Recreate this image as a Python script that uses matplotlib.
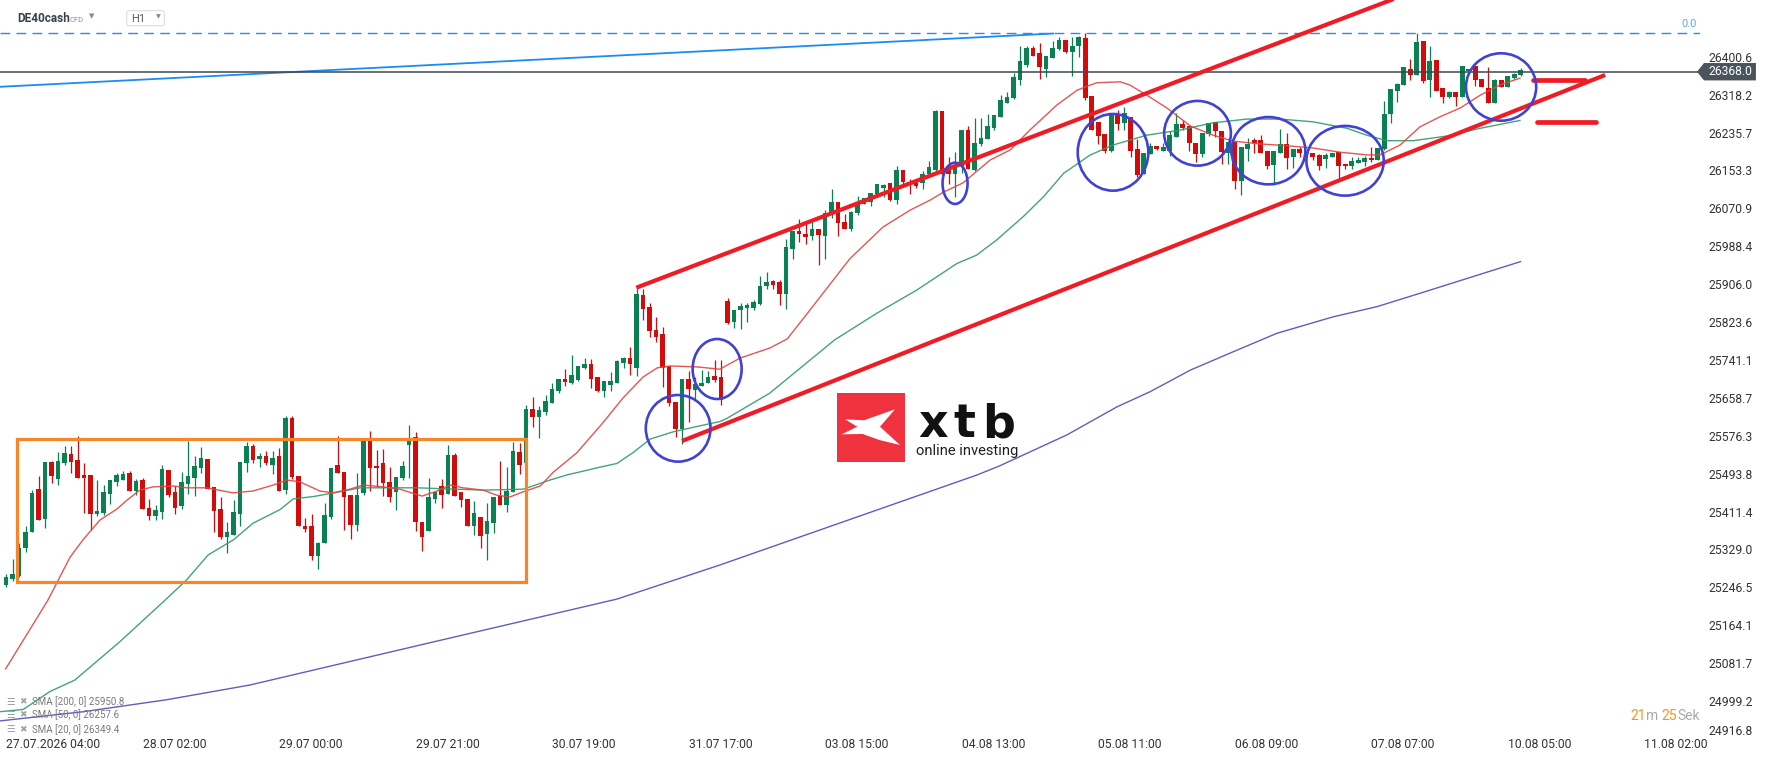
import matplotlib
matplotlib.use('Agg')
import numpy as np
import matplotlib.pyplot as plt
from matplotlib.patches import Rectangle, Ellipse, Polygon, FancyBboxPatch

plt.rcParams['font.family'] = ['Roboto', 'DejaVu Sans']

# H1 candles, DE40cash
opens = [
    25252, 25265, 25272, 25331, 25367, 25460, 25396, 25519, 25483, 25517,
    25537, 25524, 25491, 25491, 25407, 25408, 25450, 25476, 25480, 25495,
    25457, 25480, 25419, 25402, 25411, 25502, 25454, 25424, 25472, 25485,
    25507, 25526, 25465, 25417, 25355, 25361, 25407, 25516, 25554, 25526,
    25532, 25513, 25532, 25459, 25614, 25489, 25380, 25380, 25315, 25342,
    25400, 25513, 25497, 25447, 25382, 25451, 25567, 25510, 25516, 25475,
    25453, 25485, 25557, 25573, 25389, 25370, 25439, 25467, 25450, 25534,
    25453, 25439, 25379, 25400, 25363, 25387, 25446, 25426, 25453, 25541,
    25516, 25634, 25618, 25628, 25648, 25674, 25700, 25692, 25698, 25724,
    25732, 25704, 25674, 25687, 25692, 25734, 25745, 25724, 25882, 25856,
    25806, 25798, 25727, 25650, 25591, 25700, 25676, 25685, 25690, 25706,
    25705, 25869, 25824, 25850, 25855, 25855, 25863, 25901, 25912, 25911,
    25885, 25983, 26022, 26014, 26011, 26025, 26011, 26060, 26085, 26041,
    26027, 26060, 26081, 26084, 26103, 26116, 26125, 26090, 26154, 26129,
    26127, 26125, 26145, 26154, 26283, 26162, 26146, 26162, 26241, 26154,
    26210, 26222, 26246, 26270, 26301, 26310, 26349, 26383, 26419, 26408,
    26375, 26398, 26417, 26437, 26411, 26424, 26441, 26315, 26259, 26233,
    26196, 26274, 26257, 26269, 26199, 26145, 26189, 26207, 26196, 26196,
    26225, 26254, 26250, 26212, 26188, 26233, 26259, 26239, 26192, 26216,
    26131, 26201, 26220, 26220, 26196, 26166, 26192, 26210, 26182, 26200,
    26193, 26191, 26187, 26178, 26183, 26193, 26167, 26163, 26170, 26172,
    26181, 26175, 26201, 26275, 26327, 26339, 26375, 26360, 26435, 26350,
    26394, 26333, 26312, 26324, 26312, 26370, 26381, 26352, 26332, 26299,
    26350, 26334, 26354, 26360,
]
highs = [
    25276, 25308, 25344, 25381, 25458, 25489, 25519, 25521, 25541, 25555,
    25555, 25576, 25518, 25491, 25480, 25469, 25480, 25496, 25500, 25500,
    25483, 25484, 25439, 25426, 25513, 25502, 25467, 25497, 25565, 25532,
    25552, 25526, 25465, 25442, 25389, 25437, 25519, 25563, 25558, 25539,
    25542, 25544, 25550, 25619, 25619, 25489, 25398, 25406, 25345, 25430,
    25506, 25576, 25497, 25447, 25496, 25571, 25587, 25545, 25547, 25508,
    25487, 25521, 25600, 25584, 25389, 25485, 25453, 25483, 25556, 25539,
    25453, 25439, 25434, 25400, 25431, 25443, 25521, 25508, 25562, 25561,
    25644, 25661, 25642, 25664, 25692, 25700, 25721, 25751, 25728, 25745,
    25743, 25704, 25695, 25715, 25741, 25747, 25769, 25898, 25895, 25866,
    25835, 25812, 25727, 25650, 25700, 25717, 25705, 25719, 25716, 25740,
    25740, 25875, 25850, 25866, 25866, 25872, 25924, 25932, 25915, 25915,
    26004, 26022, 26047, 26036, 26043, 26025, 26067, 26113, 26085, 26058,
    26064, 26098, 26093, 26104, 26123, 26124, 26125, 26163, 26154, 26134,
    26129, 26151, 26174, 26285, 26283, 26182, 26194, 26241, 26251, 26268,
    26268, 26276, 26273, 26317, 26324, 26366, 26423, 26424, 26425, 26431,
    26402, 26434, 26444, 26437, 26443, 26446, 26453, 26315, 26259, 26233,
    26274, 26285, 26291, 26269, 26222, 26192, 26212, 26207, 26214, 26238,
    26279, 26263, 26250, 26212, 26234, 26257, 26259, 26239, 26216, 26216,
    26204, 26223, 26223, 26230, 26196, 26196, 26243, 26234, 26201, 26205,
    26194, 26191, 26189, 26191, 26192, 26193, 26167, 26182, 26182, 26185,
    26205, 26202, 26304, 26330, 26343, 26379, 26395, 26453, 26435, 26423,
    26394, 26333, 26326, 26324, 26381, 26373, 26381, 26352, 26378, 26353,
    26350, 26359, 26366, 26377,
]
lows = [
    25248, 25261, 25270, 25324, 25367, 25394, 25376, 25474, 25470, 25513,
    25496, 25485, 25409, 25372, 25402, 25404, 25427, 25467, 25480, 25457,
    25447, 25416, 25392, 25392, 25395, 25442, 25407, 25416, 25450, 25445,
    25495, 25460, 25366, 25351, 25321, 25361, 25381, 25498, 25517, 25508,
    25513, 25492, 25457, 25450, 25483, 25379, 25366, 25306, 25287, 25342,
    25396, 25496, 25372, 25352, 25368, 25447, 25455, 25464, 25445, 25433,
    25415, 25480, 25484, 25370, 25326, 25370, 25429, 25420, 25450, 25446,
    25422, 25379, 25360, 25331, 25307, 25364, 25426, 25411, 25453, 25493,
    25516, 25595, 25572, 25622, 25648, 25670, 25685, 25689, 25695, 25721,
    25679, 25671, 25661, 25674, 25692, 25724, 25708, 25707, 25828, 25792,
    25781, 25682, 25640, 25573, 25558, 25607, 25654, 25685, 25690, 25694,
    25643, 25819, 25810, 25808, 25824, 25850, 25861, 25895, 25895, 25861,
    25853, 25960, 25998, 25994, 26002, 25948, 25961, 26049, 26011, 26027,
    26022, 26056, 26080, 26077, 26096, 26096, 26086, 26080, 26123, 26101,
    26116, 26114, 26140, 26147, 26143, 26124, 26096, 26147, 26157, 26153,
    26207, 26221, 26241, 26270, 26299, 26309, 26339, 26379, 26403, 26353,
    26357, 26398, 26415, 26408, 26359, 26399, 26307, 26241, 26210, 26191,
    26193, 26241, 26241, 26182, 26138, 26145, 26189, 26198, 26196, 26185,
    26225, 26241, 26196, 26172, 26183, 26228, 26227, 26167, 26167, 26112,
    26099, 26174, 26192, 26192, 26156, 26121, 26192, 26156, 26158, 26182,
    26185, 26176, 26154, 26159, 26182, 26134, 26156, 26156, 26169, 26164,
    26171, 26175, 26198, 26256, 26303, 26339, 26349, 26360, 26343, 26314,
    26326, 26299, 26310, 26294, 26312, 26368, 26337, 26334, 26299, 26299,
    26334, 26334, 26352, 26359,
]
closes = [
    25268, 25276, 25333, 25367, 25452, 25394, 25519, 25489, 25521, 25539,
    25519, 25485, 25484, 25407, 25413, 25454, 25480, 25491, 25493, 25457,
    25478, 25416, 25402, 25415, 25504, 25448, 25420, 25476, 25489, 25510,
    25528, 25460, 25413, 25355, 25367, 25410, 25519, 25554, 25524, 25532,
    25517, 25528, 25457, 25614, 25487, 25379, 25374, 25315, 25343, 25404,
    25506, 25496, 25444, 25383, 25448, 25567, 25505, 25505, 25473, 25444,
    25487, 25510, 25566, 25389, 25355, 25442, 25453, 25447, 25534, 25446,
    25437, 25379, 25408, 25359, 25391, 25443, 25426, 25457, 25543, 25513,
    25634, 25618, 25632, 25652, 25678, 25700, 25694, 25708, 25728, 25732,
    25700, 25674, 25695, 25695, 25739, 25745, 25732, 25885, 25852, 25805,
    25790, 25723, 25647, 25591, 25700, 25677, 25689, 25691, 25703, 25698,
    25653, 25822, 25850, 25859, 25861, 25867, 25902, 25911, 25904, 25885,
    25987, 26022, 26014, 26009, 26027, 26013, 26061, 26085, 26038, 26027,
    26063, 26082, 26093, 26104, 26123, 26122, 26090, 26154, 26129, 26125,
    26120, 26146, 26161, 26283, 26145, 26146, 26162, 26241, 26157, 26212,
    26223, 26249, 26273, 26307, 26312, 26356, 26391, 26419, 26403, 26378,
    26402, 26419, 26437, 26410, 26424, 26444, 26310, 26241, 26229, 26196,
    26274, 26254, 26279, 26196, 26143, 26192, 26207, 26199, 26205, 26230,
    26254, 26245, 26212, 26188, 26234, 26257, 26238, 26194, 26216, 26131,
    26204, 26211, 26214, 26192, 26164, 26196, 26210, 26181, 26201, 26191,
    26191, 26182, 26164, 26187, 26192, 26164, 26162, 26174, 26177, 26181,
    26175, 26202, 26275, 26330, 26341, 26379, 26360, 26433, 26348, 26391,
    26326, 26314, 26324, 26312, 26381, 26373, 26349, 26334, 26301, 26350,
    26334, 26359, 26364, 26372,
]

# moving averages: (candle index, value)
sma20 = [(-0.06, 25069), (6.46, 25219), (9.85, 25312), (11.85, 25350), (14.46, 25393),
         (17.08, 25417), (18.6, 25436), (20.6, 25458), (22.6, 25465), (25.7, 25467),
         (27.8, 25463), (30.9, 25463), (34.9, 25452), (38, 25456), (41.1, 25469),
         (43.2, 25480), (45.2, 25476), (48.3, 25456), (50.3, 25452), (52.9, 25460),
         (54.9, 25469), (58, 25465), (60.6, 25460), (64, 25445), (66.3, 25456),
         (68.3, 25469), (70.3, 25463), (73.4, 25458), (75.5, 25447), (77.5, 25443),
         (79.5, 25454), (82.2, 25467), (84.2, 25497), (87.8, 25539), (91.8, 25604),
         (94.9, 25658), (98, 25704), (100.2, 25724), (102.2, 25728), (106.3, 25726),
         (109.8, 25721), (112.9, 25745), (117.5, 25767), (120.2, 25787), (123.7, 25850),
         (129.8, 25961), (134.9, 26030), (139.1, 26067), (142.2, 26089), (144.2, 26106),
         (147.2, 26126), (151.4, 26176), (154.5, 26198), (157.5, 26241), (161.7, 26296),
         (164.8, 26328), (166.8, 26339), (167.8, 26344), (171.4, 26346), (172.9, 26339),
         (175.5, 26317), (178.6, 26289), (182.2, 26250), (185.7, 26230), (188.8, 26217),
         (192.9, 26211), (197.1, 26207), (201.1, 26202), (205.2, 26193), (209.4, 26187),
         (211.4, 26187), (214.5, 26209), (217.5, 26248), (220.6, 26270), (223.7, 26289),
         (226.8, 26317), (229.8, 26339), (232.9, 26354)]
sma50 = [(-0.92, 24976), (2.66, 24981), (6.77, 25020), (10.6, 25045), (17.5, 25128),
         (24.5, 25219), (27.8, 25263), (31.1, 25317), (35, 25350), (38, 25386),
         (42.2, 25416), (44.2, 25439), (47.3, 25444), (50.4, 25452), (54.5, 25463),
         (63.2, 25463), (73.4, 25458), (79.6, 25460), (83.7, 25480), (86.3, 25491),
         (91.4, 25508), (94, 25516), (96.5, 25540), (99.1, 25569), (102.7, 25585),
         (106.8, 25598), (109.8, 25607), (110.9, 25614), (117.5, 25669), (127.5, 25785),
         (134, 25843), (140.1, 25893), (146.3, 25951), (149.3, 25969), (152.4, 26002),
         (156.5, 26053), (159.6, 26096), (162.7, 26147), (166.8, 26187), (170.4, 26209),
         (175.5, 26230), (180.6, 26241), (185.7, 26257), (190.9, 26265), (196, 26265),
         (201.1, 26259), (206.3, 26245), (209.3, 26230), (212.4, 26218), (216.5, 26218),
         (221.6, 26228), (226.8, 26245), (232.9, 26262)]
sma200 = [(-0.92, 24956), (11.9, 24976), (24.7, 25002), (37.5, 25034), (65.2, 25126),
          (94, 25221), (109.8, 25295), (149.4, 25491), (152.9, 25511), (163.2, 25578),
          (170.9, 25639), (176, 25672), (182.2, 25719), (188.8, 25759), (195.5, 25799),
          (204.2, 25835), (210.9, 25857), (217.5, 25886), (233, 25955)]

legend_rows = ['SMA [200, 0] 25950.8', 'SMA [50, 0] 26257.6', 'SMA [20, 0] 26349.4']
last_price = 26368.0
fib_top = 26451.6

price_ticks = [24999.2, 25081.7, 25164.1, 25246.5, 25329.0, 25411.4, 25493.8, 25576.3, 25658.7,
               25741.1, 25823.6, 25906.0, 25988.4, 26070.9, 26153.3, 26235.7, 26318.2, 26400.6]
bottom_tick = 24916.8
date_pos = [0, 25.9, 46.9, 67.9, 88.9, 109.9, 130.9, 151.9, 172.9, 193.9, 214.9, 235.9, 256.9]
date_labels = ['27.07.2026 04:00', '28.07 02:00', '29.07 00:00', '29.07 21:00', '30.07 19:00',
               '31.07 17:00', '03.08 15:00', '04.08 13:00', '05.08 11:00', '06.08 09:00',
               '07.08 07:00', '10.08 05:00', '11.08 02:00']

# drawings on the chart
range_box = (1.65, 25257.5, 80.05, 25568.5)
channel_top = ([96.97, 214.0], [25898.3, 26529.0])
channel_bottom = ([104.0, 246.0], [25564.8, 26360.9])
fib_diag = ([-0.92, 161.1], [26335.2, 26451.1])
levels = [([234.9, 242.9], 26349.3), ([235.5, 244.6], 26258.0)]
circles = [(103.4, 25592.4, 9.95, 145), (109.4, 25721.4, 7.54, 130.5), (146.0, 26125.3, 3.85, 89.8),
           (170.3, 26192.7, 10.86, 166.8), (183.3, 26234.1, 10.26, 140.7), (194.2, 26196.2, 11.38, 146.4),
           (206.0, 26174.3, 11.9, 151.6), (230.0, 26334.8, 10.8, 146.6)]

GREEN = '#0a8150'
RED = '#d40b0b'
W, H = 1768, 761

fig = plt.figure(figsize=(W / 100, H / 100), dpi=100)
fig.patch.set_facecolor('white')

# watermark layer (pixel coords)
bg = fig.add_axes([0, 0, 1, 1], zorder=0)
bg.set_xlim(0, W)
bg.set_ylim(H, 0)
bg.axis('off')
bg.add_patch(Rectangle((837.3, 393.3), 67.7, 68.4, color='#f0323e', lw=0))
bg.add_patch(Polygon([(845, 419.3), (864, 420.3), (895, 409.3), (880, 426.7), (900, 445),
                      (879.3, 440), (862.7, 434), (841.7, 434.3), (857.3, 426.7)],
                     closed=True, color='white', lw=0))
for ch, cx in zip('xtb', [933.5, 964.0, 998.5]):
    bg.text(cx, 437, ch, fontsize=33, fontweight='bold', family='DejaVu Sans',
            ha='center', va='baseline', color='#111111')
bg.text(916.5, 455, 'online investing', fontsize=10.6, ha='left', va='baseline', color='#1e1e1e')

ax = fig.add_axes([0, 24 / H, 1700 / W, 737 / H], zorder=1)
ax.patch.set_alpha(0)

o, hi, lo, c = map(np.array, (opens, highs, lows, closes))
x = np.arange(len(c))
cols = np.where(c >= o, GREEN, RED)
ax.vlines(x, lo, hi, colors=cols, lw=0.9, zorder=2)
ax.bar(x, np.maximum(np.abs(c - o), 2.0), bottom=np.minimum(o, c), width=0.75,
       color=cols, lw=0, zorder=2.5)

for pts, col in [(sma200, '#4a4fb0'), (sma50, '#2f9a6c'), (sma20, '#e2443f')]:
    xi, yi = zip(*pts)
    ax.plot(xi, yi, color=col, lw=1.0, alpha=0.9, zorder=3)

ax.axhline(fib_top, color='#2a8ee0', lw=1.0, dashes=(7, 4.5), zorder=3)
ax.plot(*fib_diag, color='#1b8cf2', lw=1.3, zorder=3)
ax.axhline(last_price, color='#3d4650', lw=1.1, zorder=3)

x0, y0, x1, y1 = range_box
ax.add_patch(Rectangle((x0, y0), x1 - x0, y1 - y0, fill=False, ec='#f7862a', lw=2.3, zorder=4))
ax.plot(*channel_top, color='#ee1c25', lw=3, solid_capstyle='butt', zorder=5)
ax.plot(*channel_bottom, color='#ee1c25', lw=3, solid_capstyle='butt', zorder=5)
for xs, lv in levels:
    ax.plot(xs, [lv, lv], color='#ee1c25', lw=3.4, solid_capstyle='round', zorder=5)
for cx, cy, w, h in circles:
    ax.add_patch(Ellipse((cx, cy), w, h, fill=False, ec='#4042d2', lw=1.9, zorder=6))

ax.set_xlim(-0.923, 260.6)
ax.set_ylim(24921.0, 26524)
for s in ax.spines.values():
    s.set_visible(False)

ax.set_xticks(date_pos)
ax.set_xticklabels(date_labels)
ax.tick_params(axis='x', length=0, pad=1, labelsize=8.7, labelcolor='#333333')
ax.get_xticklabels()[0].set_ha('left')
ax.yaxis.tick_right()
ax.set_yticks(price_ticks)
ax.set_yticklabels([f'{v:.1f}' for v in price_ticks])
ax.tick_params(axis='y', length=0, pad=5.8, labelsize=8.7, labelcolor='#333333')

ytr = ax.get_yaxis_transform()
ax.text(1708 / 1700, 24932.5, f'{bottom_tick:.1f}', transform=ytr, ha='left', va='center',
        fontsize=8.7, color='#333333', clip_on=False)
ax.add_patch(Polygon([(0.99824, last_price), (1.00235, last_price + 18.9), (1.0329, last_price + 18.9),
                      (1.0329, last_price - 18.9), (1.00235, last_price - 18.9)],
                     closed=True, transform=ytr, color='#4a545d', lw=0, clip_on=False, zorder=10))
ax.text(1708 / 1700, last_price, f'{last_price:.1f}', transform=ytr, ha='left', va='center',
        fontsize=8.7, color='white', clip_on=False, zorder=11)
ax.text(0.99824, fib_top + 19.5, '0.0', transform=ytr, ha='right', va='center',
        fontsize=8, color='#5aa8e6', zorder=11)

# header, legend and countdown (pixel coords)
top = fig.add_axes([0, 0, 1, 1], zorder=3)
top.set_xlim(0, W)
top.set_ylim(H, 0)
top.axis('off')
top.patch.set_alpha(0)
top.text(17.3, 18.5, 'DE40cash', fontsize=8.5, fontweight='bold', color='#37414b', va='center')
top.text(70, 19.5, 'CFD', fontsize=5.5, color='#8c939a', va='center')
top.text(92, 16.5, '▼', fontsize=5, color='#8a8a8a', ha='center', va='center', family='DejaVu Sans')
top.add_patch(FancyBboxPatch((126.7, 10.7), 37.6, 15, boxstyle='round,pad=0,rounding_size=2',
                             ec='#dddddd', fc='white', lw=0.8))
top.text(131, 19.2, 'H1', fontsize=8, color='#5a5a5a', va='center')
top.text(158, 17, '▼', fontsize=4.5, color='#8a8a8a', ha='center', va='center', family='DejaVu Sans')

for row, yy in zip(legend_rows, [701.7, 715, 729.3]):
    top.text(6, yy, '☰', fontsize=7, color='#a0a4aa', va='center', family='DejaVu Sans')
    top.text(19, yy, '✖', fontsize=6.5, color='#a0a4aa', va='center', family='DejaVu Sans')
    top.text(31.7, yy, row, fontsize=7, color='#7a7a7a', va='center')

for txt, xx, col in [('21', 1630, '#f7941d'), ('m', 1646, '#a9a9a9'),
                     ('25', 1661.7, '#f7941d'), ('Sek', 1677.3, '#a9a9a9')]:
    top.text(xx, 716, txt, fontsize=10, color=col, va='center', ha='left')

fig.savefig('out.png', dpi=100)
